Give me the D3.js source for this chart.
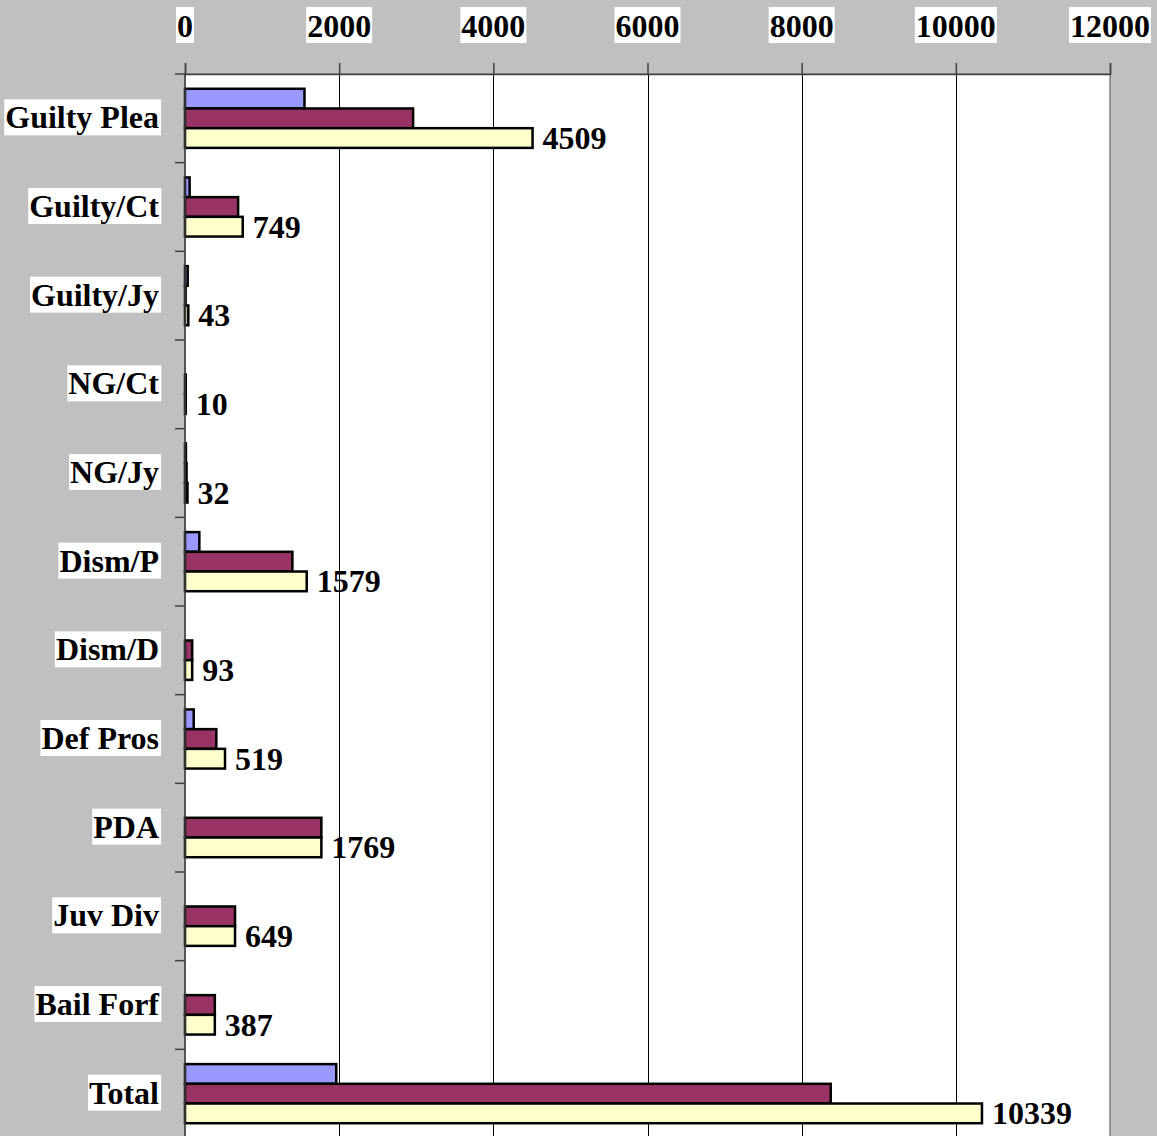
<!DOCTYPE html>
<html>
<head>
<meta charset="utf-8">
<script src="https://cdn.jsdelivr.net/npm/d3@7/dist/d3.min.js"></script>
<style>
  html, body { margin: 0; padding: 0; background: #c0c0c0; }
  svg { display: block; }
  text { font-family: "Liberation Serif", "Times New Roman", serif; font-weight: bold; }
</style>
</head>
<body>
<svg id="chart" width="1157" height="1136"></svg>
<script>
// ---- data ----
const categories = ["Guilty Plea", "Guilty/Ct", "Guilty/Jy", "NG/Ct", "NG/Jy", "Dism/P", "Dism/D", "Def Pros", "PDA", "Juv Div", "Bail Forf", "Total"];
const seriesNames = ["Series 1", "Series 2", "Series 3"];
const series1Values = [1550, 60, 35, 0, 12, 186, 0, 113, 0, 0, 0, 1962];
const series2Values = [2959, 689, 8, 10, 20, 1393, 93, 406, 1769, 649, 387, 8377];
const series3Values = [4509, 749, 43, 10, 32, 1579, 93, 519, 1769, 649, 387, 10339];
const seriesColors = ["#9999ff", "#993366", "#ffffcc"];
const xTickValues = [0, 2000, 4000, 6000, 8000, 10000, 12000];

const allSeries = [series1Values, series2Values, series3Values];

// ---- layout ----
const W = 1157, H = 1136;
const plot = { left: 185, right: 1110, top: 74, bottom: 1138 };
const fontSize = 32;

const svg = d3.select("#chart");

const x = d3.scaleLinear().domain([0, 12000]).range([plot.left, plot.right]);
const y = d3.scaleBand().domain(categories).range([plot.top, plot.bottom])
  .paddingInner(1 / 3).paddingOuter(1 / 6);
const ySub = d3.scaleBand().domain(d3.range(allSeries.length)).range([0, y.bandwidth()]);

// background
svg.append("rect").attr("x", 0).attr("y", 0).attr("width", W).attr("height", H).attr("fill", "#c0c0c0");

// plot area
svg.append("rect")
  .attr("x", plot.left).attr("y", plot.top)
  .attr("width", plot.right - plot.left).attr("height", plot.bottom - plot.top)
  .attr("fill", "#ffffff").attr("stroke", "#808080").attr("stroke-width", 1.5);

// gridlines
svg.append("g").selectAll("line")
  .data(xTickValues.filter(d => d > 0 && d < 12000))
  .join("line")
  .attr("x1", d => Math.round(x(d)) + 0.5).attr("x2", d => Math.round(x(d)) + 0.5)
  .attr("y1", plot.top).attr("y2", plot.bottom)
  .attr("stroke", "#000").attr("stroke-width", 1);

// bars
const groups = svg.append("g").selectAll("g")
  .data(categories)
  .join("g")
  .attr("transform", d => `translate(0,${y(d)})`);

groups.selectAll("rect")
  .data((c, i) => allSeries.map((s, k) => ({ k, v: s[i] })))
  .join("rect")
  .attr("x", x(0))
  .attr("y", d => ySub(d.k))
  .attr("width", d => x(d.v) - x(0))
  .attr("height", ySub.bandwidth())
  .attr("fill", d => seriesColors[d.k])
  .attr("stroke", "#000")
  .attr("stroke-width", 2.5);

// data labels for the third series
svg.append("g").selectAll("text")
  .data(categories)
  .join("text")
  .attr("x", (c, i) => x(series3Values[i]) + 10)
  .attr("y", c => y(c) + ySub(2) + ySub.bandwidth() / 2)
  .attr("dominant-baseline", "central")
  .attr("font-size", fontSize)
  .attr("fill", "#000")
  .text((c, i) => series3Values[i]);

// top axis
const xAxis = d3.axisTop(x).tickValues(xTickValues).tickSize(11).tickFormat("");
const gx = svg.append("g").attr("transform", `translate(0,${plot.top})`).call(xAxis);
gx.select(".domain").attr("stroke", "#404040").attr("stroke-width", 1.5);
gx.selectAll(".tick line").attr("stroke", "#404040").attr("stroke-width", 1.5);

// left axis
const yAxis = d3.axisLeft(y).tickValues([]).tickSize(0);
const gy = svg.append("g").attr("transform", `translate(${plot.left},0)`).call(yAxis);
gy.select(".domain").attr("stroke", "#404040").attr("stroke-width", 1.5)
  .attr("d", `M0,${plot.top}V${plot.bottom}`);
// category boundary ticks
const boundaries = categories.map((c, i) => plot.top + i * y.step());
boundaries.push(plot.bottom);
svg.append("g").selectAll("line")
  .data(boundaries)
  .join("line")
  .attr("x1", plot.left - 10).attr("x2", plot.left)
  .attr("y1", d => d).attr("y2", d => d)
  .attr("stroke", "#404040").attr("stroke-width", 1.5);

// tick labels with white boxes
const tickLabels = svg.append("g").selectAll("g")
  .data(xTickValues)
  .join("g");
tickLabels.append("text")
  .attr("x", d => x(d))
  .attr("y", 26)
  .attr("text-anchor", "middle")
  .attr("dominant-baseline", "central")
  .attr("font-size", fontSize)
  .text(d => d);
tickLabels.each(function () {
  const g = d3.select(this);
  const bb = g.select("text").node().getBBox();
  g.insert("rect", "text")
    .attr("x", bb.x - 1).attr("y", 7)
    .attr("width", bb.width + 2).attr("height", 36)
    .attr("fill", "#fff");
});

// category labels with white boxes
const catLabels = svg.append("g").selectAll("g")
  .data(categories)
  .join("g");
catLabels.append("text")
  .attr("x", 159)
  .attr("y", c => y(c) + y.bandwidth() / 2 - 1)
  .attr("text-anchor", "end")
  .attr("dominant-baseline", "central")
  .attr("font-size", fontSize)
  .text(c => c);
catLabels.each(function () {
  const g = d3.select(this);
  const bb = g.select("text").node().getBBox();
  g.insert("rect", "text")
    .attr("x", bb.x - 1).attr("y", bb.y + bb.height / 2 - 18)
    .attr("width", bb.width + 3).attr("height", 36)
    .attr("fill", "#fff");
});
</script>
</body>
</html>
